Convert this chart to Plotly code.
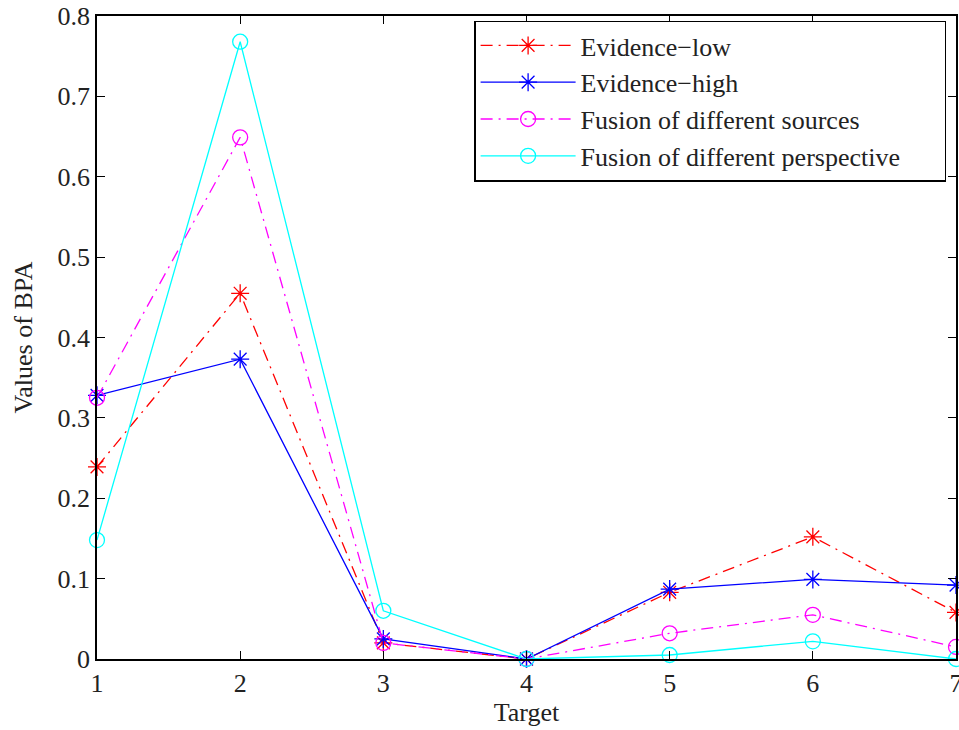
import plotly.graph_objects as go

targets = [1, 2, 3, 4, 5, 6, 7]
evidence_low = [0.239, 0.455, 0.020, 0.0, 0.083, 0.152, 0.058]
evidence_high = [0.328, 0.373, 0.025, 0.0, 0.087, 0.099, 0.092]
fusion_sources = [0.325, 0.649, 0.020, 0.0, 0.032, 0.055, 0.015]
fusion_perspective = [0.148, 0.768, 0.060, 0.0, 0.005, 0.022, 0.0]
y_ticks = [0, 0.1, 0.2, 0.3, 0.4, 0.5, 0.6, 0.7, 0.8]
y_tick_labels = ["0", "0.1", "0.2", "0.3", "0.4", "0.5", "0.6", "0.7", "0.8"]

PAD = "\u00a0" * 6
series = [
    ("Evidence\u2212low", evidence_low, "#ff0000", "12px,6px,2px,6px", "asterisk-open"),
    ("Evidence\u2212high", evidence_high, "#0000ff", "solid", "asterisk-open"),
    ("Fusion of different sources", fusion_sources, "#ff00ff", "12px,6px,2px,6px", "circle-open"),
    ("Fusion of different perspective" + PAD, fusion_perspective, "#00ffff", "solid", "circle-open"),
]

fig = go.Figure()
for name, vals, color, dash, sym in series:
    fig.add_trace(go.Scatter(
        x=targets, y=vals, name=name, mode="lines+markers",
        line=dict(color=color, width=1.3, dash=dash),
        marker=dict(symbol=sym, size=15, color=color, line=dict(color=color, width=1.3)),
        cliponaxis=False,
    ))

font = "Liberation Serif, Times New Roman, serif"
axis_common = dict(
    showline=True, linecolor="black", linewidth=1.5, mirror="ticks",
    ticks="inside", ticklen=8, tickwidth=1.3, tickcolor="black",
    showgrid=False, zeroline=False, ticklabeloverflow="allow", automargin=False,
    tickfont=dict(family=font, size=26, color="#222"),
)
fig.update_layout(
    width=959, height=730,
    margin=dict(l=97, r=3, t=16, b=71, autoexpand=False),
    paper_bgcolor="white", plot_bgcolor="white",
    font=dict(family=font, color="#222"),
    xaxis=dict(range=[1, 7], tickvals=targets, ticktext=[str(t) for t in targets],
               title=dict(text="Target", font=dict(family=font, size=26), standoff=4),
               **axis_common),
    yaxis=dict(range=[0, 0.8], tickvals=y_ticks, ticktext=y_tick_labels,
               title=dict(text="Values of BPA", font=dict(family=font, size=26), standoff=17),
               **axis_common),
    legend=dict(x=0.439, y=0.993, xanchor="left", yanchor="top",
                bordercolor="black", borderwidth=1.5, bgcolor="white",
                font=dict(family=font, size=26, color="#222"),
                itemwidth=95, tracegroupgap=0),
    showlegend=True,
)
fig.write_html("out.html", config={"displayModeBar": False},
               post_script="document.body.style.margin='0px';document.body.style.overflow='hidden';")
